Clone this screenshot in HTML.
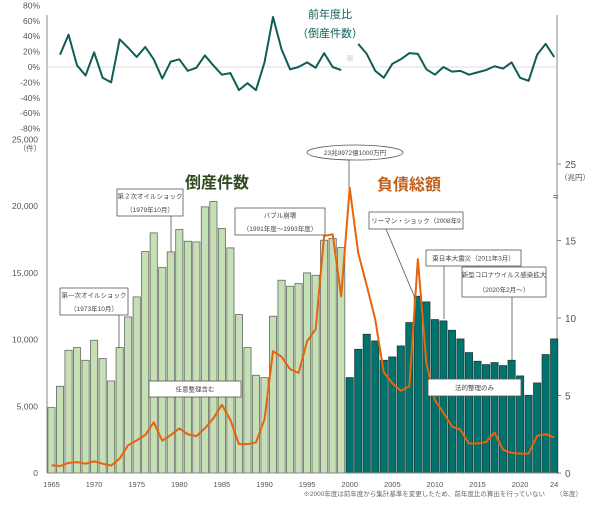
<!DOCTYPE html>
<html><head><meta charset="utf-8"><style>
body{margin:0;background:#fff;}
svg text{font-family:"Liberation Sans","Noto Sans CJK JP",sans-serif;}
</style></head><body>
<svg id="c" width="600" height="501" viewBox="0 0 600 501"></svg>
<script>
const years=[];for(let y=1965;y<=2024;y++)years.push(y);
const counts=[4900,6500,9200,9400,8450,9950,8575,6900,9400,11700,13200,16600,18000,15400,16575,18250,17375,17325,19950,20350,18325,16875,11875,9400,7325,7150,11750,14450,14000,14200,15000,14825,17450,17575,16900,7150,9275,10400,9900,8450,8700,9525,11275,13250,12825,11500,11400,10700,10050,9025,8375,8125,8275,8050,8450,7275,5825,6750,8875,10050];
const debt=[0.5,0.45,0.65,0.7,0.6,0.75,0.6,0.48,0.93,1.8,2.1,2.45,3.27,2.08,2.45,2.88,2.5,2.38,2.88,3.53,4.4,3.42,1.86,1.86,1.97,3.46,7.86,7.5,6.7,6.45,8.5,9.26,15.3,15.4,11.4,23.99,14.2,12.1,9.9,6.5,5.8,5.3,5.6,13.8,7.1,4.7,3.9,3.0,2.8,1.9,1.9,2.0,2.6,1.5,1.3,1.25,1.25,2.4,2.5,2.3];
const ratioA=[16,42,2,-11,19,-14,-20,36,25,13,26,10,-15,7,10,-5,-1,15,2,-10,-8,-30,-21,-30,6,65,23,-3,0,6,-1,18,0,-4]; // 1966-1999
const ratioB=[30,17,-5,-14,4,10,18,17,-3,-10,0,-6,-5,-10,-7,-4,1,-2,6,-14,-18,16,30,13]; // 2001-2024
const leftTicks=["0","5,000","10,000","15,000","20,000","25,000"];
const pctTicks=["80%","60%","40%","20%","0%","-20%","-40%","-60%","-80%"];
const rightTicks=[0,5,10,15];
const xLabels=[1965,1970,1975,1980,1985,1990,1995,2000,2005,2010,2015,2020,2024];

const NS="http://www.w3.org/2000/svg",svg=document.getElementById('c');
function mk(t,a,txt){const e=document.createElementNS(NS,t);for(const k in a)e.setAttribute(k,a[k]);if(txt!==undefined)e.textContent=txt;svg.appendChild(e);return e;}
const X=y=>51.5+(y-1965)*8.52;
const Y=v=>473-v*0.01334;
const YD=v=>v<=17?473-v*15.5:(473-17*15.5)-(v-17)*3.07;
const YP=p=>67-p*0.77;

// axes
let e;
e=mk('line',{x1:47,y1:15,x2:47,y2:473,stroke:'#888','stroke-width':1});

e=mk('line',{x1:557,y1:15,x2:557,y2:473,stroke:'#888','stroke-width':1});

e=mk('line',{x1:47,y1:YP(0),x2:557,y2:YP(0),stroke:'#ddd','stroke-width':1});


pctTicks.forEach((t,i)=>{const p=80-i*20;
 e=mk('text',{x:40,y:YP(p)+3,'text-anchor':'end','font-size':8.5,fill:'#555'},t);
 });
leftTicks.forEach((t,i)=>{
 e=mk('text',{x:38,y:Y(i*5000)+3,'text-anchor':'end','font-size':8.5,fill:'#555'},t);
 });
e=mk('text',{x:30,y:151,'text-anchor':'middle','font-size':7.5,fill:'#555'},'（件）');

rightTicks.forEach(v=>{
 e=mk('line',{x1:557,y1:YD(v),x2:561,y2:YD(v),stroke:'#888'});
 
 e=mk('text',{x:565,y:YD(v)+4,'font-size':10,fill:'#555'},String(v));
 });
e=mk('line',{x1:557,y1:164,x2:561,y2:164,stroke:'#888'});

e=mk('text',{x:565,y:168,'font-size':10,fill:'#555'},'25');

e=mk('text',{x:560,y:180,'font-size':7.5,fill:'#555'},'（兆円）');

e=mk('text',{x:553,y:200,'font-size':10,fill:'#555'},'≈');


// bars
years.forEach((y,i)=>{
 e=mk('rect',{x:X(y)-3.6,y:Y(counts[i]),width:7.2,height:473-Y(counts[i]),fill:y<2000?'#c5e0b4':'#00736e',stroke:y<2000?'#666':'#1a3d3a','stroke-width':0.8});
 });

// x labels
xLabels.forEach(y=>{
 e=mk('text',{x:X(y),y:487,'text-anchor':'middle','font-size':7.5,fill:'#555'},y===2024?'24':String(y));
 });
mk('line',{x1:47,y1:473,x2:557,y2:473,stroke:'#888'});

// debt line
e=mk('polyline',{points:years.map((y,i)=>X(y)+','+YD(debt[i])).join(' '),fill:'none',stroke:'#e8640c','stroke-width':2,'stroke-linejoin':'round'});


// ratio lines
e=mk('polyline',{points:ratioA.map((p,i)=>X(1966+i)+','+YP(p)).join(' '),fill:'none',stroke:'#0f5e55','stroke-width':2,'stroke-linejoin':'round'});

e=mk('polyline',{points:ratioB.map((p,i)=>X(2001+i)+','+YP(p)).join(' '),fill:'none',stroke:'#0f5e55','stroke-width':2,'stroke-linejoin':'round'});


// titles
e=mk('text',{x:330,y:18,'text-anchor':'middle','font-size':11,fill:'#0f5e55'},'前年度比');

e=mk('text',{x:330,y:37,'text-anchor':'middle','font-size':11,fill:'#0f5e55'},'（倒産件数）');

e=mk('text',{x:350,y:61,'text-anchor':'middle','font-size':8,fill:'#aaa'},'※');

e=mk('text',{x:217,y:188,'text-anchor':'middle','font-size':16,'font-weight':'bold',fill:'#2e4a1f'},'倒産件数');

e=mk('text',{x:409,y:190,'text-anchor':'middle','font-size':16,'font-weight':'bold',fill:'#c0601a'},'負債総額');


// annotations
function box(name,x,y,w,h,lines,lx1,ly1,lx2,ly2){
 if(lx1!==undefined){const l=mk('line',{x1:lx1,y1:ly1,x2:lx2,y2:ly2,stroke:'#555','stroke-width':0.8});}
 const r=mk('rect',{x:x,y:y,width:w,height:h,fill:'#fff',stroke:'#555','stroke-width':0.8});
 
 lines.forEach((t,i)=>{const tt=mk('text',{x:x+w/2,y:y+(h/(lines.length))*(i+0.5)+2.5,'text-anchor':'middle','font-size':6.5,fill:'#444'},t);
  });
}
box('oil-shock-1-annotation',60,288,68,27,['第一次オイルショック','（1973年10月）'],119,315,119,Y(9400));
box('oil-shock-2-annotation',117,189,66,27,['第２次オイルショック','（1979年10月）'],171,216,171,252);
box('bubble-annotation',235,208,90,27,['バブル崩壊','（1991年度～1993年度）']);
box('voluntary-annotation',149,381,92,16,['任意整理含む']);
box('lehman-annotation',369,212,94,17,['リーマン・ショック（2008年9'],386,229,415,298);
box('earthquake-annotation',426,250,95,16,['東日本大震災（2011年3月）'],444,266,444,319);
box('covid-annotation',462,267,84,30,['新型コロナウイルス感染拡大','（2020年2月～）'],512,297,512,360);
box('legal-annotation',428,379,93,17,['法的整理のみ']);
e=mk('line',{x1:349,y1:160,x2:349,y2:188,stroke:'#555','stroke-width':0.8});

e=mk('ellipse',{cx:355,cy:152.5,rx:48,ry:7.5,fill:'#fff',stroke:'#555','stroke-width':0.8});

e=mk('text',{x:355,y:155,'text-anchor':'middle','font-size':6.5,fill:'#444'},'23兆9972億1000万円');


e=mk('text',{x:545,y:496,'text-anchor':'end','font-size':6.5,fill:'#666'},'※2000年度は前年度から集計基準を変更したため、前年度比の算出を行っていない');

e=mk('text',{x:556,y:496,'font-size':6.5,fill:'#666'},'（年度）');

</script>
</body></html>
